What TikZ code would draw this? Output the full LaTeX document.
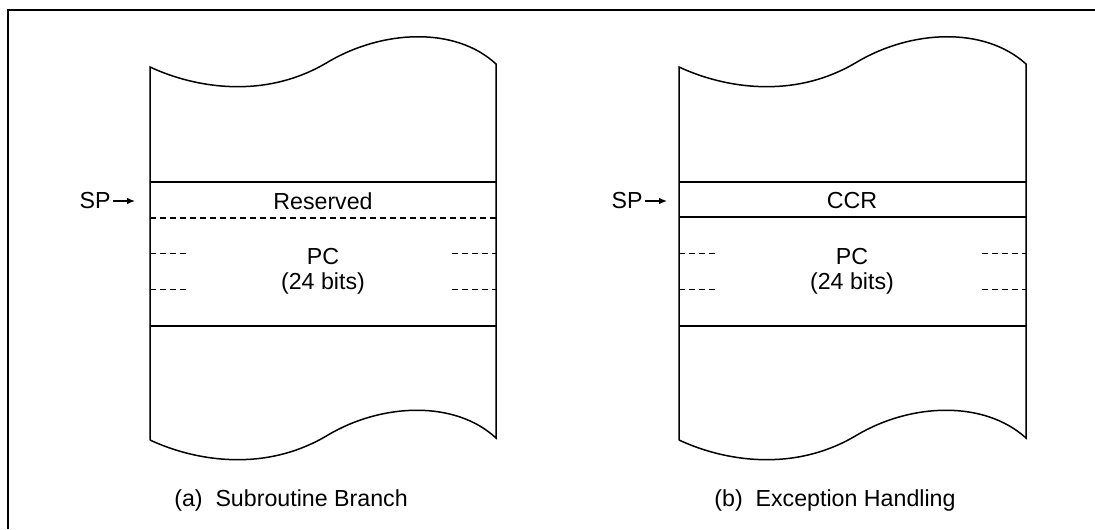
\documentclass[tikz,border=0pt]{standalone}
\usepackage{fontspec}
\setmainfont{Liberation Sans}
\usetikzlibrary{arrows.meta}

\tikzset{
  lbl/.style={inner sep=0pt, font=\fontsize{11.6}{14}\selectfont},
  boxline/.style={line width=0.75pt},
  sepline/.style={line width=0.7pt, dash pattern=on 3pt off 2pt},
  tickline/.style={line width=0.35pt, dash pattern=on 3pt off 2pt},
  ptr/.style={line width=0.7pt, -{Latex[length=4pt,width=3.4pt]}},
}

\begin{document}
\begin{tikzpicture}[x=0.5pt,y=-0.5pt]
            \useasboundingbox (0,0) rectangle (1095,529);
            \draw[line width=1.1pt] (8,529) -- (8,10) -- (1095,10);

            % (a) subroutine branch
            \draw[boxline] (150,440) -- (150,67)
                .. controls (195,88) and (265,100) .. (328,62)
                .. controls (382,30) and (455,26) .. (496,64)
                -- (496,438)
                .. controls (455,400) and (382,403) .. (328,435)
                .. controls (265,473) and (195,461) .. (150,440);
            \draw[boxline] (150,182) -- (496,182);
            \draw[sepline] (150,218) -- (496,218);
            \draw[boxline] (150,326) -- (496,326);
            \draw[tickline] (150,253) -- (188,253);
            \draw[tickline] (150,289) -- (188,289);
            \draw[tickline] (452,253) -- (496,253);
            \draw[tickline] (452,289) -- (496,289);

            \node[lbl, anchor=base] (res) at (323,209) {Reserved};
            \node[lbl, anchor=base] (pc_a) at (323,264) {PC};
            \node[lbl, anchor=base] (bits_a) at (323,289) {(24 bits)};
            \node[lbl, anchor=east] (sp_a) at (111,201) {SP};
            \coordinate (top_a) at (135,201);
            \draw[ptr] ([xshift=1pt]sp_a.east) -- (top_a);
            \node[lbl, anchor=base] (cap_a) at (291,506) {(a)\ \ Subroutine Branch};

            % (b) exception handling
            \draw[boxline] (679,440) -- (679,67)
                .. controls (724,88) and (794,100) .. (857,62)
                .. controls (911,30) and (984,26) .. (1026,64)
                -- (1026,438)
                .. controls (984,400) and (911,403) .. (857,435)
                .. controls (794,473) and (724,461) .. (679,440);
            \draw[boxline] (679,182) -- (1026,182);
            \draw[boxline] (679,217) -- (1026,217);
            \draw[boxline] (679,326) -- (1026,326);
            \draw[tickline] (679,253) -- (717,253);
            \draw[tickline] (679,289) -- (717,289);
            \draw[tickline] (982,253) -- (1026,253);
            \draw[tickline] (982,289) -- (1026,289);

            \node[lbl, anchor=base] (ccr) at (852,208) {CCR};
            \node[lbl, anchor=base] (pc_b) at (852,264) {PC};
            \node[lbl, anchor=base] (bits_b) at (852,289) {(24 bits)};
            \node[lbl, anchor=east] (sp_b) at (643,201) {SP};
            \coordinate (top_b) at (667,201);
            \draw[ptr] ([xshift=1pt]sp_b.east) -- (top_b);
            \node[lbl, anchor=base] (cap_b) at (835,506) {(b)\ \ Exception Handling};
        \end{tikzpicture}
\end{document}
